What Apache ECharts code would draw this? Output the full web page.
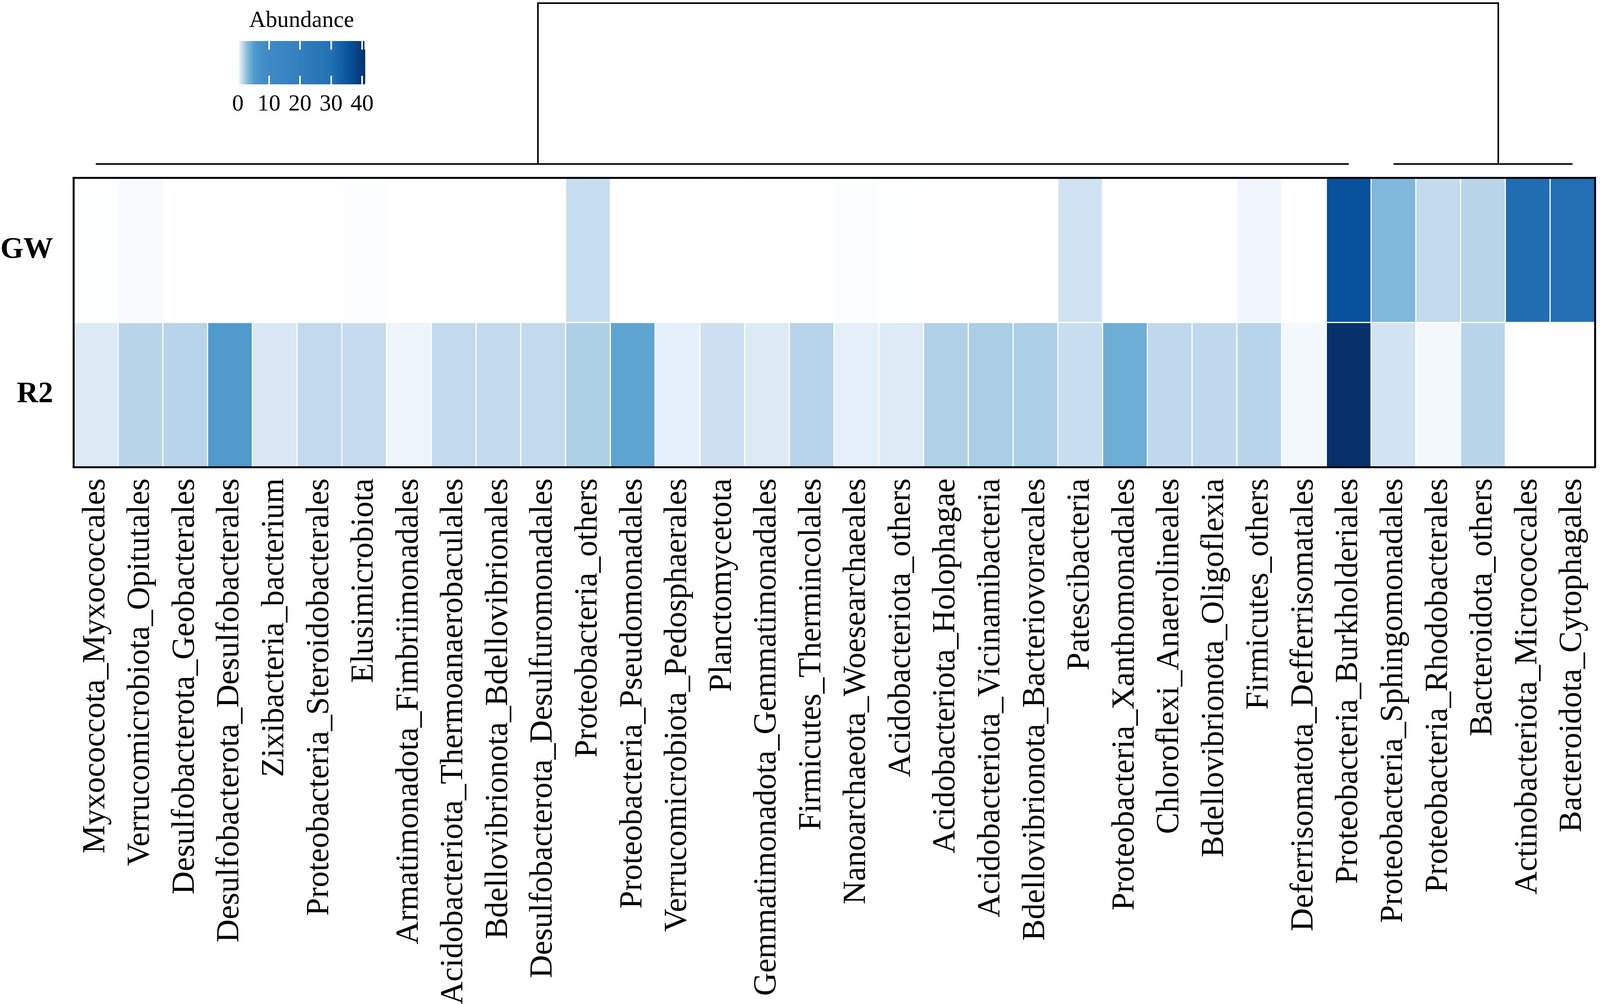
<!DOCTYPE html>
<html>
<head>
<meta charset="utf-8">
<title>Abundance heatmap</title>
<script src="https://cdn.jsdelivr.net/npm/echarts@6/dist/echarts.min.js"></script>
<style>
  html, body { margin: 0; padding: 0; background: #fff; overflow: hidden; }
  #main { width: 100vw; height: 100vh; }
</style>
</head>
<body>
<div id="main"></div>
<script>
// taxa (columns, in dendrogram order)
var taxa = [
  'Myxococcota_Myxococcales', 'Verrucomicrobiota_Opitutales', 'Desulfobacterota_Geobacterales',
  'Desulfobacterota_Desulfobacterales', 'Zixibacteria_bacterium', 'Proteobacteria_Steroidobacterales',
  'Elusimicrobiota', 'Armatimonadota_Fimbriimonadales', 'Acidobacteriota_Thermoanaerobaculales',
  'Bdellovibrionota_Bdellovibrionales', 'Desulfobacterota_Desulfuromonadales', 'Proteobacteria_others',
  'Proteobacteria_Pseudomonadales', 'Verrucomicrobiota_Pedosphaerales', 'Planctomycetota',
  'Gemmatimonadota_Gemmatimonadales', 'Firmicutes_Thermincolales', 'Nanoarchaeota_Woesearchaeales',
  'Acidobacteriota_others', 'Acidobacteriota_Holophagae', 'Acidobacteriota_Vicinamibacteria',
  'Bdellovibrionota_Bacteriovoracales', 'Patescibacteria', 'Proteobacteria_Xanthomonadales',
  'Chloroflexi_Anaerolineales', 'Bdellovibrionota_Oligoflexia', 'Firmicutes_others',
  'Deferrisomatota_Defferrisomatales', 'Proteobacteria_Burkholderiales', 'Proteobacteria_Sphingomonadales',
  'Proteobacteria_Rhodobacterales', 'Bacteroidota_others', 'Actinobacteriota_Micrococcales',
  'Bacteroidota_Cytophagales'
];
// samples (rows, bottom to top)
var samples = ['R2', 'GW'];

// abundance (%) per taxon
var gwValues = [
  0.05, 0.15, 0, 0, 0, 0, 0.1, 0, 0, 0, 0, 1.35,
  0, 0, 0.03, 0, 0, 0.1, 0.02, 0, 0, 0, 1.05, 0,
  0, 0, 0.35, 0, 36, 3.3, 1.5, 1.8, 30.5, 30
];
var r2Values = [
  0.8, 1.8, 1.85, 5.5, 0.85, 1.5, 1.4, 0.4, 1.5, 1.45, 1.45, 2.1,
  4.6, 0.6, 1.2, 0.8, 1.85, 0.6, 0.75, 2.05, 2.2, 2.15, 1.3, 4.0,
  1.6, 1.6, 1.85, 0.3, 41, 1.0, 0.28, 1.8, 0, 0.03
];

// legend scale
var scaleMin = 0, scaleMax = 41;
var scaleTicks = 10;

// column dendrogram: leaf spans of the two clusters, x of their joins, heights
var clusterLeft = [0, 28];
var clusterRight = [29, 33];
var joinX = [9.88, 31.34];
var joinHeight = [0, 1];

// colour ramp (value -> colour), expanded to an evenly spaced list
var rampStops = [
  [0, '#ffffff'], [0.5, '#e9f2fa'], [1, '#d3e4f3'], [1.5, '#c2d9ee'], [2, '#b2d2e8'],
  [3, '#86bcdc'], [4, '#6caed6'], [5, '#559fcf'], [6, '#4a95c9'], [10, '#3f89c5'],
  [20, '#337fbe'], [30, '#2270b3'], [36, '#08519c'], [41, '#08306b']
];
function hexToRgb(h) {
  return [parseInt(h.substr(1, 2), 16), parseInt(h.substr(3, 2), 16), parseInt(h.substr(5, 2), 16)];
}
function rampColor(v) {
  for (var i = 1; i < rampStops.length; i++) {
    if (v <= rampStops[i][0]) {
      var a = rampStops[i - 1], b = rampStops[i];
      var t = (v - a[0]) / (b[0] - a[0]);
      var ca = hexToRgb(a[1]), cb = hexToRgb(b[1]);
      return 'rgb(' + [0, 1, 2].map(function (k) { return Math.round(ca[k] + (cb[k] - ca[k]) * t); }).join(',') + ')';
    }
  }
  return rampStops[rampStops.length - 1][1];
}
var rampColors = [];
for (var v = scaleMin; v <= scaleMax + 1e-9; v += 0.25) rampColors.push(rampColor(v));

var heatData = [];
for (var i = 0; i < taxa.length; i++) {
  heatData.push([i, 0, r2Values[i]]);
  heatData.push([i, 1, gwValues[i]]);
}

var dendroLines = [
  { coords: [[clusterLeft[0], joinHeight[0]], [clusterLeft[1], joinHeight[0]]] },
  { coords: [[clusterRight[0], joinHeight[0]], [clusterRight[1], joinHeight[0]]] },
  { coords: [[joinX[0], joinHeight[0]], [joinX[0], joinHeight[1]], [joinX[1], joinHeight[1]], [joinX[1], joinHeight[0]]] }
];

var serif = 'Liberation Serif';
var dom = document.getElementById('main');
var myChart = echarts.init(dom);

// layout is laid out on a 4328 x 2571 page and scaled to the real window
var W = dom.clientWidth, H = dom.clientHeight;
var sx = W / 4328, sy = H / 2571, sf = Math.min(sx, sy);
function X(v) { return Math.round(v * sx); }
function Y(v) { return Math.round(v * sy); }
function F(v) { return Math.max(1, Math.round(v * sf)); }
function FY(v) { return Math.max(1, Math.round(v * sy)); } // rotated text: its length runs vertically

var option = {
  backgroundColor: '#fff',
  animation: false,
  grid: [
    { left: X(199), right: X(14), top: Y(455), bottom: Y(1375), outerBoundsMode: 'none' },
    { left: X(199), right: X(14), top: Y(8), height: Y(412), outerBoundsMode: 'none' },
    { left: X(644), width: X(344), top: Y(105), height: Y(111), outerBoundsMode: 'none' }
  ],
  xAxis: [
    {
      type: 'category', gridIndex: 0, data: taxa, position: 'bottom', z: 10,
      axisLine: { show: true, lineStyle: { color: '#000', width: F(5) } },
      axisTick: { show: false },
      splitLine: { show: false },
      axisLabel: { interval: 0, rotate: 90, margin: Y(29), fontSize: FY(82), fontFamily: serif, color: '#000' }
    },
    {
      type: 'category', gridIndex: 0, data: taxa, position: 'top', z: 10,
      axisLine: { show: true, lineStyle: { color: '#000', width: F(5) } },
      axisTick: { show: false }, axisLabel: { show: false }, splitLine: { show: false }
    },
    { type: 'value', gridIndex: 1, min: -0.5, max: taxa.length - 0.5, show: false },
    {
      type: 'value', gridIndex: 2, min: scaleMin, max: scaleMax, interval: scaleTicks, position: 'bottom', z: 10,
      axisLine: { show: false },
      axisTick: { show: true, inside: true, length: Y(22), lineStyle: { color: '#fff', width: F(4) } },
      splitLine: { show: false },
      axisLabel: { margin: Y(22), fontSize: F(62), fontFamily: serif, color: '#000', showMaxLabel: false }
    },
    {
      type: 'value', gridIndex: 2, min: scaleMin, max: scaleMax, interval: scaleTicks, position: 'top', z: 10,
      name: 'Abundance', nameLocation: 'middle', nameGap: Y(22),
      nameTextStyle: { fontSize: F(62), fontFamily: serif, color: '#000', verticalAlign: 'bottom' },
      axisLine: { show: false },
      axisTick: { show: true, inside: true, length: Y(22), lineStyle: { color: '#fff', width: F(4) } },
      splitLine: { show: false }, axisLabel: { show: false }
    }
  ],
  yAxis: [
    {
      type: 'category', gridIndex: 0, data: samples, position: 'left', z: 10,
      axisLine: { show: true, lineStyle: { color: '#000', width: F(5) } },
      axisTick: { show: false }, splitLine: { show: false },
      axisLabel: { margin: X(55), fontSize: F(80), fontWeight: 'bold', fontFamily: serif, color: '#000' }
    },
    {
      type: 'category', gridIndex: 0, data: samples, position: 'right', z: 10,
      axisLine: { show: true, lineStyle: { color: '#000', width: F(5) } },
      axisTick: { show: false }, axisLabel: { show: false }, splitLine: { show: false }
    },
    { type: 'value', gridIndex: 1, min: 0, max: 1, show: false },
    { type: 'value', gridIndex: 2, min: 0, max: 1, show: false }
  ],
  visualMap: {
    type: 'continuous', seriesIndex: 0, min: scaleMin, max: scaleMax,
    orient: 'horizontal', left: X(644), top: Y(105), itemWidth: Y(111), itemHeight: X(344),
    padding: 0, calculable: false, text: null, showLabel: false,
    inRange: { color: rampColors }
  },
  series: [
    {
      type: 'heatmap', xAxisIndex: 0, yAxisIndex: 0, data: heatData,
      itemStyle: { borderColor: '#fff', borderWidth: F(3) },
      emphasis: { disabled: true }
    },
    {
      type: 'lines', coordinateSystem: 'cartesian2d', xAxisIndex: 2, yAxisIndex: 2,
      polyline: true, data: dendroLines, silent: true,
      lineStyle: { color: '#000', width: F(4), opacity: 1 }
    }
  ]
};

myChart.setOption(option);
window.addEventListener('resize', function () { myChart.resize(); });
</script>
</body>
</html>
